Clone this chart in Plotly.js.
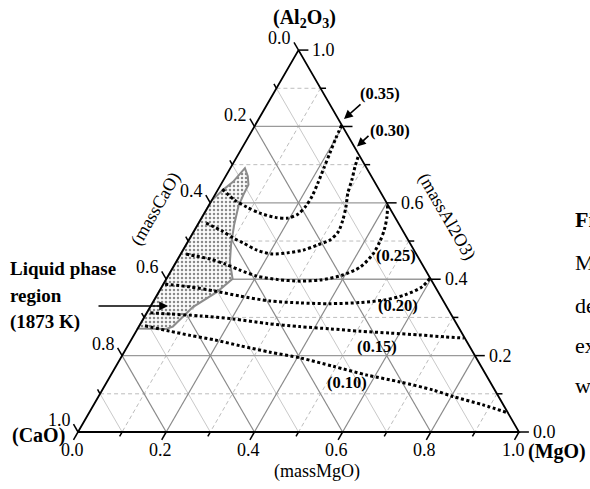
<!DOCTYPE html>
<html><head><meta charset="utf-8">
<script src="https://cdn.plot.ly/plotly-3.0.1.min.js"></script>
<style>html,body{margin:0;padding:0;background:#fff;}#chart{width:590px;height:489px;}</style>
</head><body><div id="chart"></div>
<script>
// ---- Data (mass fractions; CaO = 1 - Al2O3 - MgO) ----
const majorTickValues = [0, 0.2, 0.4, 0.6, 0.8, 1.0];
const allTickValues = [0, 0.1, 0.2, 0.3, 0.4, 0.5, 0.6, 0.7, 0.8, 0.9, 1.0];
const gridValues = [0.1, 0.2, 0.3, 0.4, 0.5, 0.6, 0.7, 0.8, 0.9];
const leftTickLabels = ['0.0', '0.2', '0.4', '0.6', '0.8', '1.0'];   // massCaO
const bottomTickLabels = ['0.0', '0.2', '0.4', '0.6', '0.8', '1.0']; // massMgO
const rightTickValues = [0, 0.2, 0.4, 0.6, 1.0];                      // massAl2O3
const rightTickLabels = ['0.0', '0.2', '0.4', '0.6', '1.0'];

const isoLabels = ['(0.35)', '(0.30)', '(0.25)', '(0.20)', '(0.15)', '(0.10)'];
const iso035Al = [0.636, 0.607, 0.589, 0.573, 0.562, 0.560, 0.571, 0.592, 0.618, 0.652, 0.691, 0.730, 0.770, 0.804];
const iso035Mg = [0.009, 0.052, 0.088, 0.126, 0.166, 0.196, 0.214, 0.221, 0.222, 0.218, 0.212, 0.206, 0.200, 0.196];
const iso030Al = [0.547, 0.526, 0.508, 0.495, 0.476, 0.466, 0.469, 0.476, 0.490, 0.503, 0.524, 0.555, 0.589, 0.626, 0.660, 0.694, 0.720];
const iso030Mg = [0.017, 0.064, 0.098, 0.127, 0.168, 0.207, 0.240, 0.272, 0.299, 0.320, 0.328, 0.323, 0.313, 0.299, 0.291, 0.281, 0.275];
const iso025Al = [0.466, 0.461, 0.453, 0.440, 0.424, 0.408, 0.399, 0.395, 0.398, 0.411, 0.432, 0.466, 0.500, 0.529, 0.563, 0.594];
const iso025Mg = [0.012, 0.035, 0.073, 0.113, 0.155, 0.202, 0.254, 0.306, 0.350, 0.395, 0.424, 0.436, 0.435, 0.430, 0.419, 0.405];
const iso020Al = [0.387, 0.380, 0.369, 0.356, 0.343, 0.338, 0.336, 0.339, 0.346, 0.359, 0.380, 0.403];
const iso020Mg = [0.004, 0.064, 0.126, 0.189, 0.264, 0.335, 0.403, 0.470, 0.523, 0.562, 0.590, 0.597];
const iso015Al = [0.312, 0.309, 0.304, 0.296, 0.284, 0.276, 0.270, 0.264, 0.259, 0.254, 0.249, 0.246];
const iso015Mg = [0.008, 0.054, 0.125, 0.204, 0.287, 0.365, 0.437, 0.507, 0.578, 0.649, 0.708, 0.752];
const iso010Al = [0.278, 0.264, 0.253, 0.241, 0.226, 0.209, 0.194, 0.172, 0.149, 0.131, 0.110, 0.093, 0.071, 0.050];
const iso010Mg = [0.013, 0.076, 0.128, 0.190, 0.254, 0.331, 0.407, 0.493, 0.581, 0.665, 0.750, 0.804, 0.883, 0.950];

const liquidAl = [0.607, 0.634, 0.655, 0.677, 0.691, 0.670, 0.647, 0.626, 0.592, 0.542, 0.490, 0.445, 0.401, 0.367, 0.327, 0.276, 0.270, 0.271, 0.607];
const liquidMg = [0.000, 0.012, 0.024, 0.029, 0.033, 0.050, 0.063, 0.064, 0.068, 0.083, 0.102, 0.122, 0.150, 0.132, 0.097, 0.077, 0.065, 0.000, 0.000];

// ---- Ternary -> cartesian ----
const SQ = Math.sqrt(3) / 2;
const tx = (al, mg) => mg + al / 2;
const ty = (al) => al * SQ;
const PXU = 441; // pixels per unit
const X0 = -78 / PXU, X1 = 512 / PXU, Y0 = -57 / PXU, Y1 = 432 / PXU;
const FONT = 'Liberation Serif, Times New Roman, serif';

const traces = [];
function segTrace(segs, line) {
  const x = [], y = [];
  segs.forEach(s => { x.push(s[0], s[2], null); y.push(s[1], s[3], null); });
  traces.push({type: 'scatter', mode: 'lines', x, y, line, hoverinfo: 'skip'});
}
const isMajor = v => Math.round(v * 10) % 2 === 0;

// grid lines
const alMaj = [], alMin = [], mgMaj = [], mgMin = [], caMaj = [], caMin = [];
gridValues.forEach(v => {
  const a = [tx(v, 0), ty(v), tx(v, 1 - v), ty(v)];          // Al2O3 = v
  const m = [tx(1 - v, v), ty(1 - v), tx(0, v), ty(0)];      // MgO = v
  const c = [tx(1 - v, 0), ty(1 - v), tx(0, 1 - v), ty(0)];  // CaO = v
  (isMajor(v) ? alMaj : alMin).push(a);
  (isMajor(v) ? mgMaj : mgMin).push(m);
  (isMajor(v) ? caMaj : caMin).push(c);
});
segTrace(alMin, {color: '#bdbdbd', width: 1, dash: '4px,3px'});
segTrace(mgMin, {color: '#bdbdbd', width: 1, dash: '4px,3px'});
segTrace(caMin, {color: '#c9c9c9', width: 1});
segTrace(alMaj, {color: '#9a9a9a', width: 1.3});
segTrace(mgMaj, {color: '#8a8a8a', width: 1.2});
segTrace(caMaj, {color: '#8a8a8a', width: 1.2});

// liquid region
traces.push({type: 'scatter', mode: 'lines', x: liquidAl.map((a, i) => tx(a, liquidMg[i])), y: liquidAl.map(a => ty(a)),
  fill: 'toself', fillcolor: 'rgba(0,0,0,0)',
  fillpattern: {shape: '.', size: 4, solidity: 0.3, fgcolor: '#8a8a8a', bgcolor: '#fbfbfb'},
  line: {color: '#8c8c8c', width: 2}, hoverinfo: 'skip'});

// iso curves
[[iso035Al, iso035Mg], [iso030Al, iso030Mg], [iso025Al, iso025Mg], [iso020Al, iso020Mg], [iso015Al, iso015Mg], [iso010Al, iso010Mg]]
  .forEach(([A, M], k) => traces.push({type: 'scatter', mode: 'lines', name: isoLabels[k],
    x: A.map((a, i) => tx(a, M[i])), y: A.map(a => ty(a)),
    line: {color: '#000', width: 3, dash: '3px,2.5px', shape: 'spline', smoothing: 0.8}, hoverinfo: 'skip'}));

// ticks
const TLmaj = 9 / PXU, TLmin = 5 / PXU;
const tickSegs = [];
allTickValues.forEach((v, i) => {
  const L = i % 2 === 0 ? TLmaj : TLmin;
  let x = tx(1 - v, 0), y = ty(1 - v);                 // left edge (CaO = v)
  tickSegs.push([x, y, x - 0.5 * L, y + SQ * L]);
  x = tx(0, v); y = 0;                                 // bottom edge (MgO = v)
  tickSegs.push([x, y, x - 0.5 * L, y - SQ * L]);
  x = tx(v, 1 - v); y = ty(v);                         // right edge (Al2O3 = v)
  tickSegs.push([x, y, x + L * 1.1, y]);
});
segTrace(tickSegs, {color: '#000', width: 1.5});

// triangle frame
traces.push({type: 'scatter', mode: 'lines', x: [tx(0, 0), tx(0, 1), tx(1, 0), tx(0, 0)], y: [0, 0, ty(1), 0],
  line: {color: '#000', width: 1.8}, hoverinfo: 'skip'});

// ---- annotations ----
const annotations = [];
const tickFont = {family: FONT, size: 18, color: '#000'};
majorTickValues.forEach((v, i) => {
  annotations.push({xref: 'x', yref: 'y', x: tx(1 - v, 0) - 0.5 * TLmaj, y: ty(1 - v) + SQ * TLmaj,
    text: leftTickLabels[i], showarrow: false, xanchor: 'right', yanchor: 'middle', xshift: -1, yshift: 4, font: tickFont});
  annotations.push({xref: 'x', yref: 'y', x: tx(0, v) - 0.5 * TLmaj, y: -SQ * TLmaj,
    text: bottomTickLabels[i], showarrow: false, xanchor: 'center', yanchor: 'top', xshift: -1.5, yshift: 2, font: tickFont});
});
rightTickValues.forEach((v, i) => {
  annotations.push({xref: 'x', yref: 'y', x: tx(v, 1 - v) + TLmaj * 1.1, y: ty(v),
    text: rightTickLabels[i], showarrow: false, xanchor: 'left', yanchor: 'middle', xshift: 2, font: tickFont});
});

const P = (px, py) => ({xref: 'paper', yref: 'paper', x: px / 590, y: 1 - py / 489});
const txt = (px, py, text, font, extra) => annotations.push(Object.assign(P(px, py), {text, showarrow: false, font, xanchor: 'center', yanchor: 'middle'}, extra || {}));
const boldF = s => ({family: FONT, size: s, color: '#000', weight: 'bold'});
const regF = s => ({family: FONT, size: s, color: '#000'});

txt(155, 209, '(massCaO)', regF(18), {textangle: -60});
txt(447, 216, '(massAl2O3)', regF(18), {textangle: 60});
txt(317, 471, '(massMgO)', regF(18));
txt(304, 18, '<b>(Al<sub>2</sub>O<sub>3</sub>)</b>', boldF(20));
txt(38, 435, '<b>(CaO)</b>', boldF(20));
txt(557, 451, '<b>(MgO)</b>', boldF(20));

const isoLabelPos = [[380, 94], [390, 131], [396, 255], [398, 305], [377, 346], [347, 382]];
isoLabels.forEach((t, i) => txt(isoLabelPos[i][0], isoLabelPos[i][1], '<b>' + t + '</b>', boldF(16.5)));

txt(8, 268, '<b>Liquid phase</b>', boldF(19), {xanchor: 'left'});
txt(8, 295, '<b>region</b>', boldF(19), {xanchor: 'left'});
txt(8, 322, '<b>(1873 K)</b>', boldF(19), {xanchor: 'left'});

// arrows
const arrow = (hx, hy, axp, ayp) => annotations.push(Object.assign(P(hx, hy), {text: '', showarrow: true, ax: axp, ay: ayp,
  arrowhead: 2, arrowsize: 1.1, arrowwidth: 1.6, arrowcolor: '#000', standoff: 0}));
arrow(344, 119, 18, -16);
arrow(357, 146.5, 13, -12);
arrow(168, 306, -71, 0);

// cropped caption fragments on the right
txt(573, 219, '<b>Fi</b>', boldF(22), {xanchor: 'left'});
txt(573, 262, 'M', regF(22), {xanchor: 'left'});
txt(573, 305, 'de', regF(22), {xanchor: 'left'});
txt(573, 345, 'ex', regF(22), {xanchor: 'left'});
txt(573, 385, 'w', regF(22), {xanchor: 'left'});

const layout = {
  width: 590, height: 489, margin: {l: 0, r: 0, t: 0, b: 0},
  paper_bgcolor: '#fff', plot_bgcolor: '#fff', showlegend: false,
  xaxis: {range: [X0, X1], visible: false, fixedrange: true},
  yaxis: {range: [Y0, Y1], visible: false, fixedrange: true},
  annotations
};
Plotly.newPlot('chart', traces, layout, {staticPlot: true, displayModeBar: false});
</script></body></html>
